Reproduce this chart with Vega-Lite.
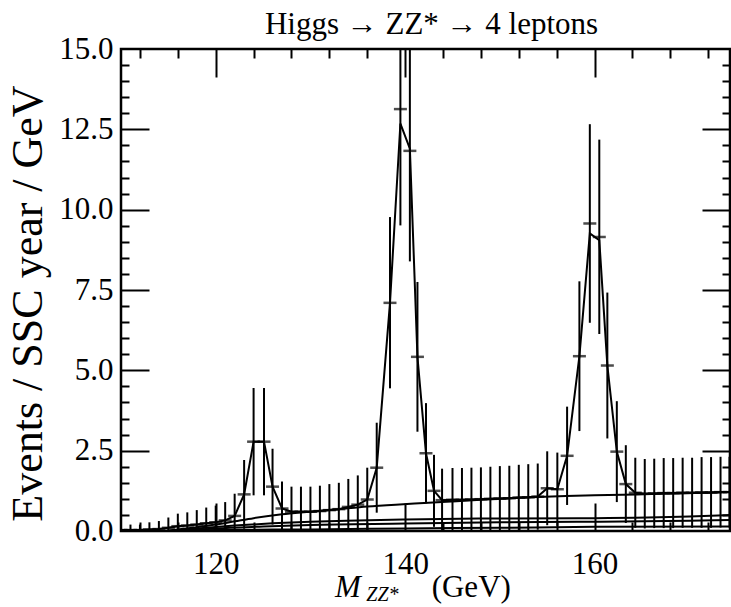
{
  "$schema": "https://vega.github.io/schema/vega-lite/v6.json",
  "width": 609,
  "height": 482,
  "autosize": {"type": "none"},
  "padding": {"left": 121, "top": 49, "right": 1, "bottom": 76},
  "title": {"text": "Higgs → ZZ* → 4 leptons", "font": "Liberation Serif", "fontSize": 31, "fontWeight": "normal", "color": "black", "anchor": "middle", "offset": -8, "dx": 6},
  "config": {
    "view": {"stroke": "black", "strokeWidth": 2.5},
    "axis": {"grid": false, "domain": false, "labelFont": "Liberation Serif", "labelFontSize": 31, "labelColor": "black", "tickColor": "black", "tickWidth": 2, "titleFont": "Liberation Serif", "titleFontSize": 44, "titleFontWeight": "normal", "titleColor": "black"}
  },
  "datasets": {
    "pts": [
      {"m": 110, "v": 0.03, "lo": 0, "hi": 0.2, "fit": 0.03},
      {"m": 111, "v": 0.03, "lo": 0, "hi": 0.2, "fit": 0.03},
      {"m": 112, "v": 0.03, "lo": 0, "hi": 0.2, "fit": 0.03},
      {"m": 113, "v": 0.05, "lo": 0, "hi": 0.27, "fit": 0.05},
      {"m": 114, "v": 0.06, "lo": 0, "hi": 0.31, "fit": 0.06},
      {"m": 115, "v": 0.1, "lo": 0, "hi": 0.42, "fit": 0.1},
      {"m": 116, "v": 0.15, "lo": 0, "hi": 0.54, "fit": 0.15},
      {"m": 117, "v": 0.17, "lo": 0, "hi": 0.58, "fit": 0.17},
      {"m": 118, "v": 0.2, "lo": 0, "hi": 0.65, "fit": 0.2},
      {"m": 119, "v": 0.24, "lo": 0, "hi": 0.73, "fit": 0.24},
      {"m": 120, "v": 0.27, "lo": 0, "hi": 0.79, "fit": 0.27},
      {"m": 121, "v": 0.33, "lo": 0, "hi": 0.9, "fit": 0.33},
      {"m": 122, "v": 0.47, "lo": 0, "hi": 1.16, "fit": 0.47},
      {"m": 123, "v": 1.14, "lo": 0.07, "hi": 2.21, "fit": 1.14},
      {"m": 124, "v": 2.78, "lo": 1.11, "hi": 4.45, "fit": 2.78},
      {"m": 125.1, "v": 2.78, "lo": 1.11, "hi": 4.45, "fit": 2.78},
      {"m": 126, "v": 1.38, "lo": 0.2, "hi": 2.56, "fit": 1.38},
      {"m": 127, "v": 0.7, "lo": 0, "hi": 1.54, "fit": 0.7},
      {"m": 128, "v": 0.6, "lo": 0, "hi": 1.38, "fit": 0.6},
      {"m": 129, "v": 0.6, "lo": 0, "hi": 1.38, "fit": 0.6},
      {"m": 130, "v": 0.6, "lo": 0, "hi": 1.38, "fit": 0.6},
      {"m": 131, "v": 0.62, "lo": 0, "hi": 1.41, "fit": 0.62},
      {"m": 132, "v": 0.65, "lo": 0, "hi": 1.46, "fit": 0.65},
      {"m": 133, "v": 0.68, "lo": 0, "hi": 1.5, "fit": 0.68},
      {"m": 134, "v": 0.75, "lo": 0, "hi": 1.62, "fit": 0.75},
      {"m": 135, "v": 0.82, "lo": 0, "hi": 1.73, "fit": 0.82},
      {"m": 136, "v": 0.98, "lo": 0, "hi": 1.97, "fit": 0.98},
      {"m": 137, "v": 1.97, "lo": 0.57, "hi": 3.37, "fit": 1.97},
      {"m": 138.4, "v": 7.1, "lo": 4.44, "hi": 9.77, "fit": 7.1},
      {"m": 139.5, "v": 13.13, "lo": 9.51, "hi": 16.75, "fit": 12.68},
      {"m": 140.5, "v": 11.83, "lo": 8.39, "hi": 15.27, "fit": 11.9},
      {"m": 141.3, "v": 5.42, "lo": 3.09, "hi": 7.75, "fit": 5.42},
      {"m": 142.2, "v": 2.42, "lo": 0.86, "hi": 3.98, "fit": 2.42},
      {"m": 143.05, "v": 1.25, "lo": 0.13, "hi": 2.37, "fit": 1.25},
      {"m": 143.9, "v": 0.96, "lo": 0, "hi": 1.94, "fit": 0.96},
      {"m": 145, "v": 0.97, "lo": 0, "hi": 1.96, "fit": 0.97},
      {"m": 146, "v": 0.97, "lo": 0, "hi": 1.96, "fit": 0.97},
      {"m": 147, "v": 0.98, "lo": 0, "hi": 1.97, "fit": 0.98},
      {"m": 148, "v": 0.99, "lo": 0, "hi": 1.98, "fit": 0.99},
      {"m": 149, "v": 1.0, "lo": 0, "hi": 2.0, "fit": 1.0},
      {"m": 150, "v": 1.01, "lo": 0, "hi": 2.02, "fit": 1.01},
      {"m": 151, "v": 1.02, "lo": 0.01, "hi": 2.03, "fit": 1.02},
      {"m": 152, "v": 1.04, "lo": 0.02, "hi": 2.06, "fit": 1.04},
      {"m": 153, "v": 1.05, "lo": 0.03, "hi": 2.08, "fit": 1.05},
      {"m": 154, "v": 1.07, "lo": 0.04, "hi": 2.1, "fit": 1.07},
      {"m": 155, "v": 1.33, "lo": 0.18, "hi": 2.48, "fit": 1.33},
      {"m": 156.07, "v": 1.3, "lo": 0.16, "hi": 2.44, "fit": 1.3},
      {"m": 157.1, "v": 2.34, "lo": 0.81, "hi": 3.87, "fit": 2.34},
      {"m": 158.4, "v": 5.44, "lo": 3.11, "hi": 7.77, "fit": 5.44},
      {"m": 159.5, "v": 9.57, "lo": 6.48, "hi": 12.66, "fit": 9.26},
      {"m": 160.5, "v": 9.15, "lo": 6.13, "hi": 12.18, "fit": 9.05},
      {"m": 161.35, "v": 5.15, "lo": 2.88, "hi": 7.42, "fit": 5.15},
      {"m": 162.35, "v": 2.47, "lo": 0.9, "hi": 4.04, "fit": 2.47},
      {"m": 163.3, "v": 1.46, "lo": 0.25, "hi": 2.67, "fit": 1.46},
      {"m": 164.3, "v": 1.19, "lo": 0.1, "hi": 2.28, "fit": 1.19},
      {"m": 165.3, "v": 1.16, "lo": 0.08, "hi": 2.24, "fit": 1.16},
      {"m": 166.3, "v": 1.17, "lo": 0.09, "hi": 2.25, "fit": 1.17},
      {"m": 167.3, "v": 1.18, "lo": 0.09, "hi": 2.27, "fit": 1.18},
      {"m": 168.3, "v": 1.18, "lo": 0.09, "hi": 2.27, "fit": 1.18},
      {"m": 169.3, "v": 1.19, "lo": 0.1, "hi": 2.28, "fit": 1.19},
      {"m": 170.3, "v": 1.19, "lo": 0.1, "hi": 2.28, "fit": 1.19},
      {"m": 171.3, "v": 1.2, "lo": 0.1, "hi": 2.3, "fit": 1.2},
      {"m": 172.3, "v": 1.2, "lo": 0.1, "hi": 2.3, "fit": 1.2},
      {"m": 173.3, "v": 1.21, "lo": 0.11, "hi": 2.31, "fit": 1.21},
      {"m": 174.25, "v": 1.21, "lo": 0.11, "hi": 2.31, "fit": 1.21}
    ],
    "bkgTotal": [
      {"m": 114.5, "y": 0}, {"m": 116, "y": 0.05}, {"m": 118, "y": 0.12}, {"m": 120, "y": 0.2},
      {"m": 122, "y": 0.3}, {"m": 124, "y": 0.4}, {"m": 127, "y": 0.52}, {"m": 130, "y": 0.6},
      {"m": 133, "y": 0.68}, {"m": 136, "y": 0.76}, {"m": 139, "y": 0.82}, {"m": 142, "y": 0.87},
      {"m": 145, "y": 0.92}, {"m": 148, "y": 0.97}, {"m": 151, "y": 1.02}, {"m": 154, "y": 1.06},
      {"m": 157, "y": 1.09}, {"m": 160, "y": 1.11}, {"m": 163, "y": 1.13}, {"m": 166, "y": 1.15},
      {"m": 169, "y": 1.17}, {"m": 172, "y": 1.19}, {"m": 174.3, "y": 1.21}
    ],
    "bkgB": [
      {"m": 115, "y": 0}, {"m": 118, "y": 0.08}, {"m": 122, "y": 0.17}, {"m": 126, "y": 0.24},
      {"m": 130, "y": 0.29}, {"m": 135, "y": 0.33}, {"m": 140, "y": 0.36}, {"m": 150, "y": 0.39},
      {"m": 160, "y": 0.4}, {"m": 170, "y": 0.45}, {"m": 174.3, "y": 0.5}
    ],
    "bkgC": [
      {"m": 116, "y": 0}, {"m": 120, "y": 0.08}, {"m": 125, "y": 0.14}, {"m": 130, "y": 0.19},
      {"m": 140, "y": 0.23}, {"m": 150, "y": 0.27}, {"m": 160, "y": 0.29}, {"m": 170, "y": 0.32},
      {"m": 174.3, "y": 0.34}
    ],
    "bkgD": [
      {"m": 115, "y": 0}, {"m": 120, "y": 0.03}, {"m": 130, "y": 0.05}, {"m": 140, "y": 0.08},
      {"m": 150, "y": 0.1}, {"m": 160, "y": 0.13}, {"m": 174.3, "y": 0.14}
    ]
  },
  "resolve": {"axis": {"x": "independent", "y": "independent"}},
  "layer": [
    {
      "data": {"name": "pts"},
      "mark": {"type": "rule", "color": "black", "strokeWidth": 2, "clip": true},
      "encoding": {
        "x": {"field": "m", "type": "quantitative", "scale": {"domain": [110, 174.3], "nice": false, "zero": false},
              "axis": {"orient": "bottom", "values": [120, 140, 160], "ticks": false, "labelPadding": 18, "format": "d", "title": null}},
        "y": {"field": "lo", "type": "quantitative", "scale": {"domain": [0, 15], "nice": false},
              "axis": {"orient": "left", "values": [0, 2.5, 5, 7.5, 10, 12.5, 15], "ticks": false, "labelPadding": 8, "format": ".1f", "title": "Events / SSC year / GeV", "titlePadding": 8, "titleY": 254}},
        "y2": {"field": "hi"}
      }
    },
    {
      "data": {"name": "pts"},
      "mark": {"type": "tick", "orient": "horizontal", "color": "black", "size": 13, "thickness": 2.5, "clip": true},
      "encoding": {
        "x": {"field": "m", "type": "quantitative", "scale": {"domain": [110, 174.3], "nice": false, "zero": false},
              "axis": {"orient": "bottom", "values": [112, 116, 124, 128, 132, 136, 144, 148, 152, 156, 164, 168, 172], "tickSize": -9, "labels": false, "title": null}},
        "y": {"field": "v", "type": "quantitative", "scale": {"domain": [0, 15], "nice": false},
              "axis": {"orient": "left", "values": [0.5, 1, 1.5, 2, 3, 3.5, 4, 4.5, 5.5, 6, 6.5, 7, 8, 8.5, 9, 9.5, 10.5, 11, 11.5, 12, 13, 13.5, 14, 14.5], "tickSize": -8, "labels": false, "title": null}}
      }
    },
    {
      "data": {"name": "pts"},
      "mark": {"type": "line", "color": "black", "strokeWidth": 2, "clip": true},
      "encoding": {
        "x": {"field": "m", "type": "quantitative", "scale": {"domain": [110, 174.3], "nice": false, "zero": false},
              "axis": {"orient": "bottom", "values": [120, 140, 160], "tickSize": -28, "labels": false, "title": null}},
        "y": {"field": "fit", "type": "quantitative", "scale": {"domain": [0, 15], "nice": false},
              "axis": {"orient": "left", "values": [2.5, 5, 7.5, 10, 12.5], "tickSize": -28, "labels": false, "title": null}}
      }
    },
    {
      "data": {"name": "bkgTotal"},
      "mark": {"type": "line", "color": "black", "strokeWidth": 2, "interpolate": "monotone", "clip": true},
      "encoding": {
        "x": {"field": "m", "type": "quantitative", "scale": {"domain": [110, 174.3], "nice": false, "zero": false},
              "axis": {"orient": "top", "values": [112, 116, 124, 128, 132, 136, 144, 148, 152, 156, 164, 168, 172], "tickSize": -9, "labels": false, "title": null}},
        "y": {"field": "y", "type": "quantitative", "scale": {"domain": [0, 15], "nice": false},
              "axis": {"orient": "right", "values": [0.5, 1, 1.5, 2, 3, 3.5, 4, 4.5, 5.5, 6, 6.5, 7, 8, 8.5, 9, 9.5, 10.5, 11, 11.5, 12, 13, 13.5, 14, 14.5], "tickSize": -8, "labels": false, "title": null}}
      }
    },
    {
      "data": {"name": "bkgB"},
      "mark": {"type": "line", "color": "black", "strokeWidth": 2, "interpolate": "monotone", "clip": true},
      "encoding": {
        "x": {"field": "m", "type": "quantitative", "scale": {"domain": [110, 174.3], "nice": false, "zero": false},
              "axis": {"orient": "top", "values": [120, 140, 160], "tickSize": -28, "labels": false, "title": null}},
        "y": {"field": "y", "type": "quantitative", "scale": {"domain": [0, 15], "nice": false},
              "axis": {"orient": "right", "values": [2.5, 5, 7.5, 10, 12.5], "tickSize": -28, "labels": false, "title": null}}
      }
    },
    {
      "data": {"name": "bkgC"},
      "mark": {"type": "line", "color": "black", "strokeWidth": 2, "interpolate": "monotone", "clip": true},
      "encoding": {
        "x": {"field": "m", "type": "quantitative", "scale": {"domain": [110, 174.3], "nice": false, "zero": false}, "axis": null},
        "y": {"field": "y", "type": "quantitative", "scale": {"domain": [0, 15], "nice": false}, "axis": null}
      }
    },
    {
      "data": {"name": "bkgD"},
      "mark": {"type": "line", "color": "black", "strokeWidth": 2, "interpolate": "monotone", "clip": true},
      "encoding": {
        "x": {"field": "m", "type": "quantitative", "scale": {"domain": [110, 174.3], "nice": false, "zero": false}, "axis": null},
        "y": {"field": "y", "type": "quantitative", "scale": {"domain": [0, 15], "nice": false}, "axis": null}
      }
    },
    {
      "data": {"values": [{"t": "M"}]},
      "mark": {"type": "text", "align": "left", "baseline": "alphabetic", "font": "Liberation Serif", "fontStyle": "italic", "fontSize": 31, "color": "black"},
      "encoding": {
        "text": {"field": "t"},
        "x": {"datum": 132.6, "type": "quantitative", "scale": {"domain": [110, 174.3], "nice": false, "zero": false}, "axis": null},
        "y": {"datum": -2.05, "type": "quantitative", "scale": {"domain": [0, 15], "nice": false}, "axis": null}
      }
    },
    {
      "data": {"values": [{"t": "ZZ*"}]},
      "mark": {"type": "text", "align": "left", "baseline": "alphabetic", "font": "Liberation Serif", "fontStyle": "italic", "fontSize": 20, "color": "black"},
      "encoding": {
        "text": {"field": "t"},
        "x": {"datum": 135.9, "type": "quantitative", "scale": {"domain": [110, 174.3], "nice": false, "zero": false}, "axis": null},
        "y": {"datum": -2.17, "type": "quantitative", "scale": {"domain": [0, 15], "nice": false}, "axis": null}
      }
    },
    {
      "data": {"values": [{"t": "(GeV)"}]},
      "mark": {"type": "text", "align": "left", "baseline": "alphabetic", "font": "Liberation Serif", "fontSize": 31, "color": "black"},
      "encoding": {
        "text": {"field": "t"},
        "x": {"datum": 142.8, "type": "quantitative", "scale": {"domain": [110, 174.3], "nice": false, "zero": false}, "axis": null},
        "y": {"datum": -2.05, "type": "quantitative", "scale": {"domain": [0, 15], "nice": false}, "axis": null}
      }
    }
  ]
}
